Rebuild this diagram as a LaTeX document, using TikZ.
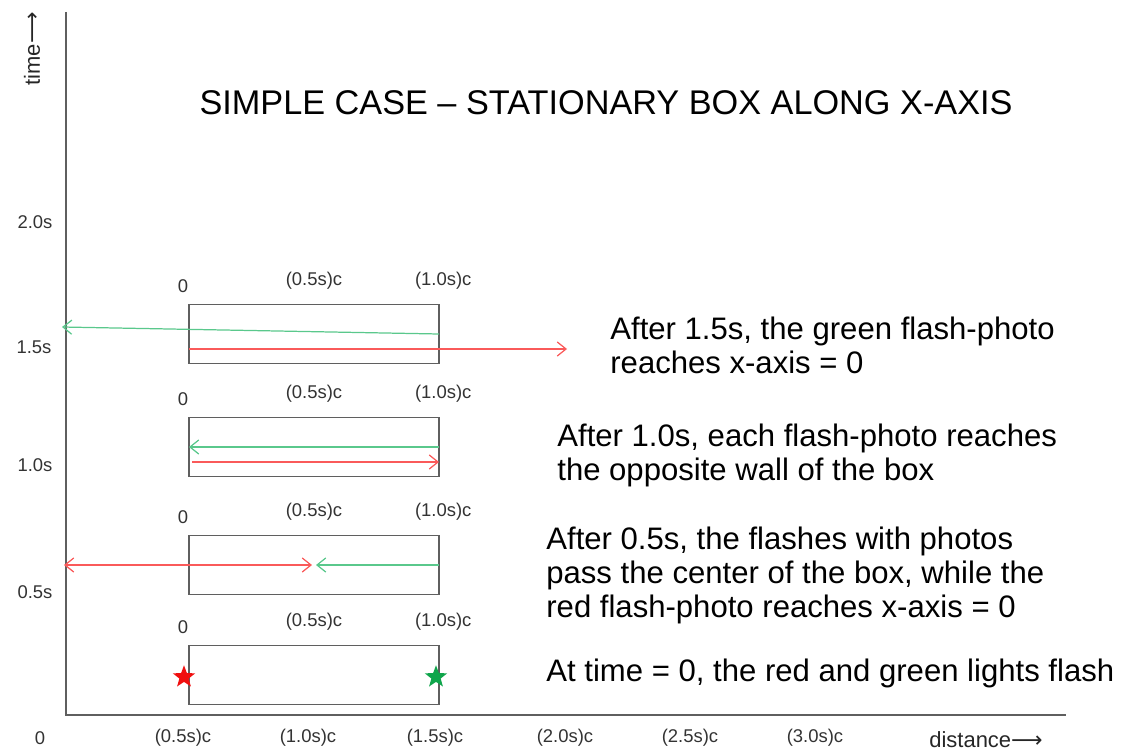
\documentclass[tikz,border=0pt]{standalone}
\usepackage{fontspec}
\setmainfont{Liberation Sans}
\newfontfamily\arrowfont{DejaVu Sans}
\usetikzlibrary{shapes.geometric, positioning, arrows.meta}
\definecolor{flashred}{RGB}{250,90,90}
\definecolor{flashgreen}{RGB}{90,200,140}
\definecolor{starred}{RGB}{240,15,15}
\definecolor{stargreen}{RGB}{15,165,75}
\definecolor{wallgray}{RGB}{95,95,95}
\tikzset{
    axis line/.style = {draw, wallgray, line width=0.9pt},
    box wall/.style = {draw, wallgray, line width=0.8pt, minimum width=5cm, minimum height=1.18cm, inner sep=0pt},
    tick label/.style = {font=\fontsize{10.5}{12}\selectfont, text=black!80, inner sep=0pt},
    axis name/.style = {font=\fontsize{12.5}{14}\selectfont, text=black!85, inner sep=0pt},
    note/.style = {font=\fontsize{17.7}{19.3}\selectfont, align=left, anchor=west, inner sep=0pt},
}
\tikzset{
    red flash/.style = {draw, flashred, line width=0.7pt, -{Straight Barb[length=5pt, width=8pt]}},
    green flash/.style = {draw, flashgreen, line width=0.7pt, -{Straight Barb[length=5pt, width=8pt]}},
    lamp/.style = {star, star points=5, star point ratio=2.4, minimum size=0.47cm, inner sep=0pt},
}

\begin{document}
\begin{tikzpicture}[x=0.02cm, y=-0.02cm]
    \useasboundingbox (0,0) rectangle (1124,753);

    % axes
    \coordinate (origin) at (66,715);
    \coordinate (ytop) at (66,12);
    \coordinate (xend) at (1066,715);
    \draw[axis line] (ytop) -- (origin) -- (xend);
    \node[axis name, rotate=90] (time) at (32,49) {time{\arrowfont ⟶}};
    \node[axis name] (distance) at (986,740) {distance{\arrowfont ⟶}};

    \node[font=\fontsize{19.5}{22}\selectfont, inner sep=0pt] (title) at (606,103) {SIMPLE CASE – STATIONARY BOX ALONG X-AXIS};

    % time ticks
    \node[tick label] (t0) at (40,738) {0};
    \node[tick label] (t1) at (35,592) {0.5s};
    \node[tick label] (t2) at (35,465) {1.0s};
    \node[tick label] (t3) at (34,347) {1.5s};
    \node[tick label] (t4) at (35,222) {2.0s};

    % distance ticks
    \foreach \x/\lab [count=\i] in {183/0.5, 308/1.0, 435/1.5, 565/2.0, 690/2.5, 815/3.0}
        \node[tick label] (d\i) at (\x,738) {(\lab s)c};

    % the box at four moments
    \node[box wall] (box1) at (314,334) {};
    \node[box wall] (box2) at (314,447) {};
    \node[box wall] (box3) at (314,565) {};
    \node[box wall] (box4) at (314,675) {};
    \foreach \b in {1,...,4} {
        \node[tick label, anchor=south] (zero\b) at ([xshift=-3pt, yshift=6pt] box\b.north west) {0};
        \node[tick label, anchor=south] (half\b) at ([yshift=8pt] box\b.north) {(0.5s)c};
        \node[tick label, anchor=south] (full\b) at ([xshift=2pt, yshift=8pt] box\b.north east) {(1.0s)c};
    }

    % t = 1.5s
    \coordinate (g1s) at (439,334);
    \coordinate (g1e) at (62,327);
    \coordinate (r1s) at (189,349);
    \coordinate (r1e) at (567,349);
    \draw[green flash] (g1s) -- (g1e);
    \draw[red flash] (r1s) -- (r1e);

    % t = 1.0s
    \coordinate (g2s) at (439,447);
    \coordinate (g2e) at (189,447);
    \coordinate (r2s) at (192,462);
    \coordinate (r2e) at (439,462);
    \draw[green flash] (g2s) -- (g2e);
    \draw[red flash] (r2s) -- (r2e);

    % t = 0.5s
    \coordinate (r3l) at (64,565);
    \coordinate (r3r) at (312,565);
    \coordinate (g3s) at (439,565);
    \coordinate (g3e) at (316,565);
    \draw[red flash, {Straight Barb[length=5pt, width=8pt]}-{Straight Barb[length=5pt, width=8pt]}] (r3l) -- (r3r);
    \draw[green flash] (g3s) -- (g3e);

    % t = 0
    \node[lamp, fill=starred] (redstar) at (184,677) {};
    \node[lamp, fill=stargreen] (greenstar) at (436,677) {};

    % notes
    \node[note] (note15) at (610,345.5) {After 1.5s, the green flash-photo\\reaches x-axis = 0};
    \node[note] (note10) at (557,455) {After 1.0s, each flash-photo reaches\\the opposite wall of the box};
    \node[note] (note05) at (546,575.5) {After 0.5s, the flashes with photos\\pass the center of the box, while the\\red flash-photo reaches x-axis = 0};
    \node[note] (note0) at (546,673) {At time = 0, the red and green lights flash};
\end{tikzpicture}
\end{document}
